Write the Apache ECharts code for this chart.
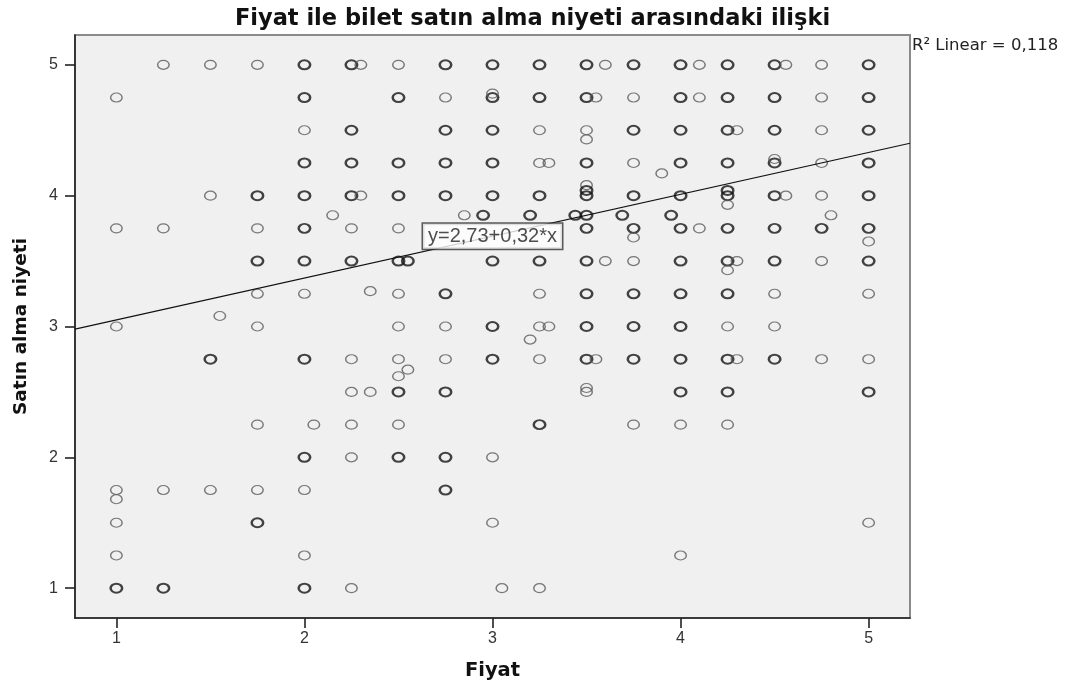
<!DOCTYPE html>
<html>
<head>
<meta charset="utf-8">
<script src="https://cdn.jsdelivr.net/npm/echarts@6/dist/echarts.min.js"></script>
<style>html,body{margin:0;padding:0;background:#fff}#c{width:1065px;height:689px}</style>
</head>
<body>
<div id="c"></div>
<script>
// ---- data ----
const chartTitle = 'Fiyat ile bilet satın alma niyeti arasındaki ilişki';
const xName = 'Fiyat';
const yName = 'Satın alma niyeti';
const xTicks = [1, 2, 3, 4, 5];
const yTicks = [1, 2, 3, 4, 5];
const intercept = 2.73;
const slope = 0.32;
const r2 = 0.118;
// [Fiyat, Satın alma niyeti, overlap level (1 = single, 2 = several)]
const row500 = [[1.25,5,1],[1.5,5,1],[1.75,5,1],[2,5,2],[2.25,5,2],[2.3,5,1],[2.5,5,1],[2.75,5,2],[3,5,2],[3.25,5,2],[3.5,5,2],[3.6,5,1],[3.75,5,2],[4,5,2],[4.1,5,1],[4.25,5,2],[4.5,5,2],[4.56,5,1],[4.75,5,1],[5,5,2]];
const row475 = [[1,4.75,1],[2,4.75,2],[2.5,4.75,2],[2.75,4.75,1],[3,4.75,2],[3,4.78,1],[3.25,4.75,2],[3.5,4.75,2],[3.55,4.75,1],[3.75,4.75,1],[4,4.75,2],[4.1,4.75,1],[4.25,4.75,2],[4.5,4.75,2],[4.75,4.75,1],[5,4.75,2]];
const row450 = [[2,4.5,1],[2.25,4.5,2],[2.75,4.5,2],[3,4.5,2],[3.25,4.5,1],[3.5,4.5,1],[3.5,4.43,1],[3.75,4.5,2],[4,4.5,2],[4.25,4.5,2],[4.3,4.5,1],[4.5,4.5,2],[4.75,4.5,1],[5,4.5,2]];
const row425 = [[2,4.25,2],[2.25,4.25,2],[2.5,4.25,2],[2.75,4.25,2],[3,4.25,2],[3.25,4.25,1],[3.3,4.25,1],[3.5,4.25,2],[3.75,4.25,1],[3.9,4.17,1],[4,4.25,2],[4.25,4.25,2],[4.5,4.25,2],[4.5,4.28,1],[4.75,4.25,1],[5,4.25,2]];
const row400 = [[1.5,4,1],[1.75,4,2],[2,4,2],[2.25,4,2],[2.3,4,1],[2.5,4,2],[2.75,4,2],[3,4,2],[3.25,4,2],[3.5,4,2],[3.5,4.08,1],[3.5,4.04,2],[3.75,4,2],[4,4,2],[4.25,4,2],[4.25,4.04,2],[4.25,3.93,1],[4.5,4,2],[4.56,4,1],[4.75,4,1],[5,4,2]];
const row385 = [[2.15,3.85,1],[2.85,3.85,1],[2.95,3.85,2],[3.2,3.85,2],[3.44,3.85,2],[3.5,3.85,2],[3.69,3.85,2],[3.95,3.85,2],[4.8,3.85,1]];
const row375 = [[1,3.75,1],[1.25,3.75,1],[1.75,3.75,1],[2,3.75,2],[2.25,3.75,1],[2.5,3.75,1],[3.5,3.75,2],[3.75,3.75,2],[3.75,3.68,1],[4,3.75,2],[4.1,3.75,1],[4.25,3.75,2],[4.5,3.75,2],[4.75,3.75,2],[5,3.75,2],[5,3.65,1]];
const row350 = [[1.75,3.5,2],[2,3.5,2],[2.25,3.5,2],[2.5,3.5,2],[2.55,3.5,2],[3,3.5,2],[3.25,3.5,2],[3.5,3.5,2],[3.6,3.5,1],[3.75,3.5,1],[4,3.5,2],[4.25,3.5,2],[4.3,3.5,1],[4.25,3.43,1],[4.5,3.5,2],[4.75,3.5,1],[5,3.5,2]];
const row325 = [[2.35,3.27,1],[1.75,3.25,1],[2,3.25,1],[2.5,3.25,1],[2.75,3.25,2],[3.25,3.25,1],[3.5,3.25,2],[3.75,3.25,2],[4,3.25,2],[4.25,3.25,2],[4.5,3.25,1],[5,3.25,1]];
const row300 = [[1.55,3.08,1],[1,3,1],[1.75,3,1],[2.5,3,1],[2.75,3,1],[3,3,2],[3.25,3,1],[3.3,3,1],[3.5,3,2],[3.75,3,2],[4,3,2],[4.25,3,1],[4.5,3,1],[3.2,2.9,1]];
const row275 = [[1.5,2.75,2],[2,2.75,2],[2.25,2.75,1],[2.5,2.75,1],[2.55,2.67,1],[2.5,2.62,1],[2.75,2.75,1],[3,2.75,2],[3.25,2.75,1],[3.5,2.75,2],[3.55,2.75,1],[3.75,2.75,2],[4,2.75,2],[4.25,2.75,2],[4.3,2.75,1],[4.5,2.75,2],[4.75,2.75,1],[5,2.75,1]];
const row250 = [[2.25,2.5,1],[2.35,2.5,1],[2.5,2.5,2],[2.75,2.5,2],[3.5,2.5,1],[3.5,2.53,1],[4,2.5,2],[4.25,2.5,2],[5,2.5,2]];
const row225 = [[1.75,2.25,1],[2.05,2.25,1],[2.25,2.25,1],[2.5,2.25,1],[3.25,2.25,2],[3.75,2.25,1],[4,2.25,1],[4.25,2.25,1]];
const row200 = [[2,2,2],[2.25,2,1],[2.5,2,2],[2.75,2,2],[3,2,1]];
const row175 = [[1,1.75,1],[1,1.68,1],[1.25,1.75,1],[1.5,1.75,1],[1.75,1.75,1],[2,1.75,1],[2.75,1.75,2]];
const row150 = [[1,1.5,1],[1.75,1.5,2],[3,1.5,1],[5,1.5,1]];
const row125 = [[1,1.25,1],[2,1.25,1],[4,1.25,1]];
const row100 = [[1,1,2],[1.25,1,2],[2,1,2],[2.25,1,1],[3.05,1,1],[3.25,1,1]];

// ---- layout / style constants ----
const X_RANGE = [0.78, 5.22];
const Y_RANGE = [0.772, 5.228];
const EQ_LABEL_POS = [3.0, 3.69];

const points = [].concat(row500,row475,row450,row425,row400,row385,row375,row350,row325,row300,row275,row250,row225,row200,row175,row150,row125,row100);
const fmt = v => String(v).replace('.', ',');
const eqText = 'y=' + intercept.toFixed(2).replace('.', ',') + '+' + slope.toFixed(2).replace('.', ',') + '*x';
const fitLine = X_RANGE.map(x => [x, intercept + slope * x]);

const pointData = points.map(p => ({
  value: p,
  itemStyle: {borderColor: p[2] > 1 ? '#151515' : '#5a5a5a', borderWidth: p[2] > 1 ? 2.2 : 1.3}
}));

const chart = echarts.init(document.getElementById('c'), null, {renderer: 'canvas'});
chart.setOption({
  animation: false,
  backgroundColor: '#ffffff',
  title: {
    text: chartTitle, left: 'center', top: 3,
    textStyle: {fontFamily: 'DejaVu Sans', fontWeight: 'bold', fontSize: 22.5, color: '#111'}
  },
  grid: {
    left: 75, right: 155, top: 35, bottom: 71,
    show: true, backgroundColor: '#f0f0f0', borderColor: '#8a8a8a', borderWidth: 2
  },
  xAxis: {
    type: 'value', min: X_RANGE[0], max: X_RANGE[1],
    name: xName, nameLocation: 'middle', nameGap: 43,
    nameTextStyle: {fontFamily: 'DejaVu Sans', fontWeight: 'bold', fontSize: 19.5, color: '#111'},
    axisLine: {show: true, onZero: false, lineStyle: {color: '#222', width: 1.6}},
    axisTick: {show: true, length: 10, customValues: xTicks, lineStyle: {color: '#222', width: 1.6}},
    axisLabel: {customValues: xTicks, margin: 13, fontFamily: 'Liberation Sans', fontSize: 16, color: '#333'},
    splitLine: {show: false}
  },
  yAxis: {
    type: 'value', min: Y_RANGE[0], max: Y_RANGE[1],
    name: yName, nameLocation: 'middle', nameGap: 44,
    nameTextStyle: {fontFamily: 'DejaVu Sans', fontWeight: 'bold', fontSize: 18.5, color: '#111'},
    axisLine: {show: true, onZero: false, lineStyle: {color: '#222', width: 1.6}},
    axisTick: {show: true, length: 10, customValues: yTicks, lineStyle: {color: '#222', width: 1.6}},
    axisLabel: {customValues: yTicks, margin: 17, fontFamily: 'Liberation Sans', fontSize: 16, color: '#333'},
    splitLine: {show: false}
  },
  graphic: [{
    type: 'text', left: 912, top: 37,
    style: {text: 'R² Linear = ' + fmt(r2), font: '16.5px "DejaVu Sans"', fill: '#222'}
  }],
  series: [
    {
      type: 'scatter', data: pointData, symbol: 'circle', symbolSize: [11.5, 9],
      itemStyle: {color: 'transparent', borderColor: '#5a5a5a', borderWidth: 1.3},
      z: 2
    },
    {
      type: 'line', data: fitLine, symbol: 'none',
      lineStyle: {color: '#111', width: 1.2}, z: 3
    },
    {
      type: 'scatter', data: [EQ_LABEL_POS], symbolSize: 0, z: 10,
      label: {
        show: true, position: 'inside', formatter: eqText,
        fontFamily: 'Liberation Sans', fontSize: 20, color: '#222',
        backgroundColor: '#ffffff', borderColor: '#333', borderWidth: 1.5, padding: [3, 5, 2, 5]
      }
    }
  ]
});
</script>
</body>
</html>
